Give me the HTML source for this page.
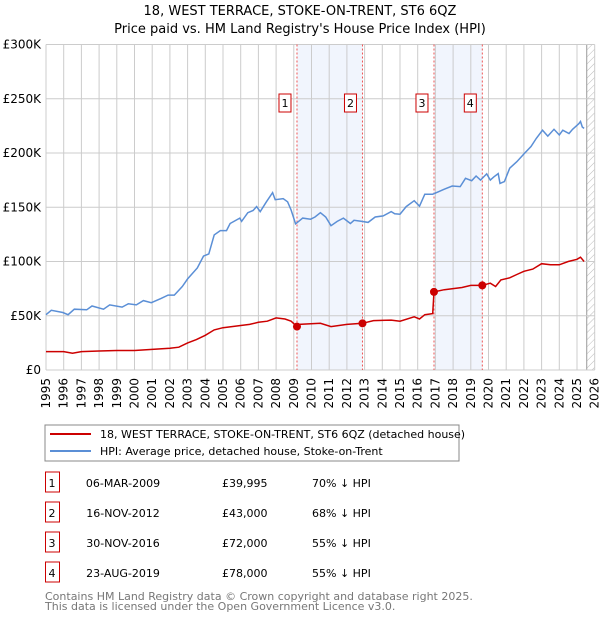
<!DOCTYPE html>
<html><head><meta charset="utf-8"><style>
body{margin:0;background:#fff;font-family:"Liberation Sans","DejaVu Sans",sans-serif;}
svg text{font-family:"DejaVu Sans","Liberation Sans",sans-serif;}
</style></head><body>
<svg width="600" height="620" viewBox="0 0 600 620" xmlns="http://www.w3.org/2000/svg" id="chart">
<defs><pattern id="hatch" width="5" height="5" patternUnits="userSpaceOnUse" patternTransform="rotate(45)"><line x1="0" y1="0" x2="0" y2="5" stroke="#bbb" stroke-width="1"/></pattern></defs>
<text x="300" y="15" text-anchor="middle" font-size="13">18, WEST TERRACE, STOKE-ON-TRENT, ST6 6QZ</text>
<text x="300" y="33" text-anchor="middle" font-size="13">Price paid vs. HM Land Registry's House Price Index (HPI)</text>
<g id="plot"></g>
<rect x="45" y="425" width="414" height="36" fill="#fff" stroke="#888"/>
<line x1="50" y1="434" x2="91" y2="434" stroke="#cc0000" stroke-width="2"/>
<text x="100" y="438" font-size="11">18, WEST TERRACE, STOKE-ON-TRENT, ST6 6QZ (detached house)</text>
<line x1="50" y1="451" x2="91" y2="451" stroke="#5b8fd6" stroke-width="2"/>
<text x="100" y="455" font-size="11">HPI: Average price, detached house, Stoke-on-Trent</text>
<g id="table"></g>
<text x="45" y="600" font-size="11" fill="#777">Contains HM Land Registry data © Crown copyright and database right 2025.</text>
<text x="45" y="610" font-size="11" fill="#777">This data is licensed under the Open Government Licence v3.0.</text>
</svg>
<script>
const hpiYears=[1995,1995.3,1995.95,1996.25,1996.6,1997.3,1997.6,1998.25,1998.6,1999.3,1999.65,2000.1,2000.5,2000.95,2001.5,2001.9,2002.25,2002.7,2003,2003.55,2003.9,2004.2,2004.5,2004.85,2005.2,2005.4,2005.95,2006.05,2006.4,2006.7,2006.9,2007.1,2007.45,2007.8,2007.95,2008.4,2008.65,2008.85,2009.1,2009.5,2009.95,2010.2,2010.5,2010.8,2011.1,2011.45,2011.8,2012.2,2012.4,2012.85,2013.2,2013.6,2014.05,2014.5,2014.7,2015,2015.35,2015.8,2016.1,2016.4,2016.85,2017.2,2017.5,2017.95,2018.4,2018.7,2019.05,2019.3,2019.55,2019.9,2020.1,2020.3,2020.55,2020.65,2020.9,2021.2,2021.6,2022.05,2022.4,2022.7,2023.05,2023.35,2023.7,2024,2024.2,2024.55,2024.75,2025.1,2025.2,2025.3,2025.4];
const hpiValues=[51,55,53,51,56,55.5,59,56,60,58,61,60,64,62,66,69,69,77,84,94,105,107,124.5,128.5,128.5,135,140,137,145,147,150.6,146,155,163.5,157,158,155,147.5,134.7,140,139,141,145,141,133,137,140,135,138,137,136,141,142,146,144,143.6,150.6,156,151,162,162,164.4,166.6,169.6,169,176.7,174.5,178.8,175,180.7,175,178,181,172,173.6,186,192,200,206,213.5,221,215.6,221.8,216.6,221,218,221.8,227,229,224,222.7];
const propYears=[1995,1996,1996.5,1997,1998,1999,2000,2001,2002,2002.5,2003,2003.5,2004,2004.5,2005,2006,2006.5,2007,2007.5,2008,2008.5,2008.85,2009.18,2009.3,2010.5,2011.1,2012,2012.88,2013.5,2014.5,2015,2015.8,2016.1,2016.4,2016.85,2016.92,2017.5,2018.5,2019,2019.65,2020.1,2020.4,2020.7,2021.2,2021.6,2022,2022.5,2023,2023.5,2024,2024.5,2025,2025.2,2025.4];
const propValues=[17,17,15.5,17,17.5,18,18,19,20,21,25,28,32,37,39,41,42,44,45,48,47,45,40,42,43,40,42,43,45.5,46,45,49,47,51,52,72,74,76,78,78,80,77,83,85,88,91,93,98,97,97,100,102,104,100];
const saleLabels=["1","2","3","4"];
const saleYears=[2009.18,2012.88,2016.92,2019.65];
const saleValues=[39.995,43,72,78];
const saleDates=["06-MAR-2009","16-NOV-2012","30-NOV-2016","23-AUG-2019"];
const salePrices=["£39,995","£43,000","£72,000","£78,000"];
const salePcts=["70% ↓ HPI","68% ↓ HPI","55% ↓ HPI","55% ↓ HPI"];
const yTicks=[0,50,100,150,200,250,300];
const yTickLabels=["£0","£50K","£100K","£150K","£200K","£250K","£300K"];
const xTicks=[1995,1996,1997,1998,1999,2000,2001,2002,2003,2004,2005,2006,2007,2008,2009,2010,2011,2012,2013,2014,2015,2016,2017,2018,2019,2020,2021,2022,2023,2024,2025,2026];

const NS="http://www.w3.org/2000/svg";
const X0=46,X1=594.7,Y0=370,Y1=44.5;
const xs=y=>X0+(y-1995)/31*(X1-X0);
const ys=v=>Y0-v/300*(Y0-Y1);
const plot=document.getElementById('plot');
function mk(tag,attrs,parent){const e=document.createElementNS(NS,tag);for(const k in attrs)e.setAttribute(k,attrs[k]);(parent||plot).appendChild(e);return e;}
for(let i=0;i<saleYears.length;i+=2){
 const r=mk('rect',{x:xs(saleYears[i]),y:Y1,width:xs(saleYears[i+1])-xs(saleYears[i]),height:Y0-Y1,fill:'#edf2fc',opacity:0.8});
 
 
}
const h=mk('rect',{x:xs(2025.55),y:Y1,width:X1-xs(2025.55),height:Y0-Y1,fill:'url(#hatch)'});


mk('line',{x1:xs(2025.55),x2:xs(2025.55),y1:Y1,y2:Y0,stroke:'#999','stroke-width':1});
xTicks.forEach((t,i)=>{
 const l=mk('line',{x1:xs(t),x2:xs(t),y1:Y1,y2:Y0,stroke:'#ccc','stroke-width':1});
 
 
 const px=xs(t)+4, py=Y0+8;
 const tx=mk('text',{x:px,y:py,'text-anchor':'end','font-size':12,transform:'rotate(-90 '+px+' '+py+')'});
 tx.textContent=t;
 
 
});
yTicks.forEach((t,i)=>{
 const l=mk('line',{x1:X0,x2:X1,y1:ys(t),y2:ys(t),stroke:'#ccc','stroke-width':1});
 
 
 const tx=mk('text',{x:X0-5,y:ys(t)+4,'text-anchor':'end','font-size':12});
 tx.textContent=yTickLabels[i];
 
 
});
mk('line',{x1:X0,x2:X0,y1:Y1,y2:Y0,stroke:'#ccc'});
saleYears.forEach((y,i)=>{
 const l=mk('line',{x1:xs(y),x2:xs(y),y1:Y1,y2:Y0,stroke:'#ee5555','stroke-width':1,'stroke-dasharray':'2,2'});
 
 
 const b=mk('rect',{x:xs(y)-18,y:94,width:12,height:18,fill:'#fff',stroke:'#cc0000'});
 
 
 const t=mk('text',{x:xs(y)-12,y:107,'text-anchor':'middle','font-size':11});
 t.textContent=saleLabels[i];
 
 
});
function path(xa,va){return xa.map((x,i)=>(i?'L':'M')+xs(x).toFixed(1)+','+ys(va[i]).toFixed(1)).join('');}
const hp=mk('path',{d:path(hpiYears,hpiValues),fill:'none',stroke:'#5b8fd6','stroke-width':1.5});


const pp=mk('path',{d:path(propYears,propValues),fill:'none',stroke:'#cc0000','stroke-width':1.5});


saleYears.forEach((y,i)=>{
 const c=mk('circle',{cx:xs(y),cy:ys(saleValues[i]),r:4,fill:'#cc0000'});
 
 
});
const tb=document.getElementById('table');
saleLabels.forEach((s,i)=>{
 const yy=483+i*30;
 const b=mk('rect',{x:45.5,y:yy-11,width:14,height:20,fill:'#fff',stroke:'#cc0000'},tb);
 
 
 const cells=[[52,s,'middle'],[123,saleDates[i],'middle'],[222,salePrices[i],'start'],[312,salePcts[i],'start']];
 cells.forEach(c=>{
  const t=mk('text',{x:c[0],y:yy+4,'text-anchor':c[2],'font-size':11},tb);
  t.textContent=c[1];
  
  
 });
});
</script>
</body></html>
